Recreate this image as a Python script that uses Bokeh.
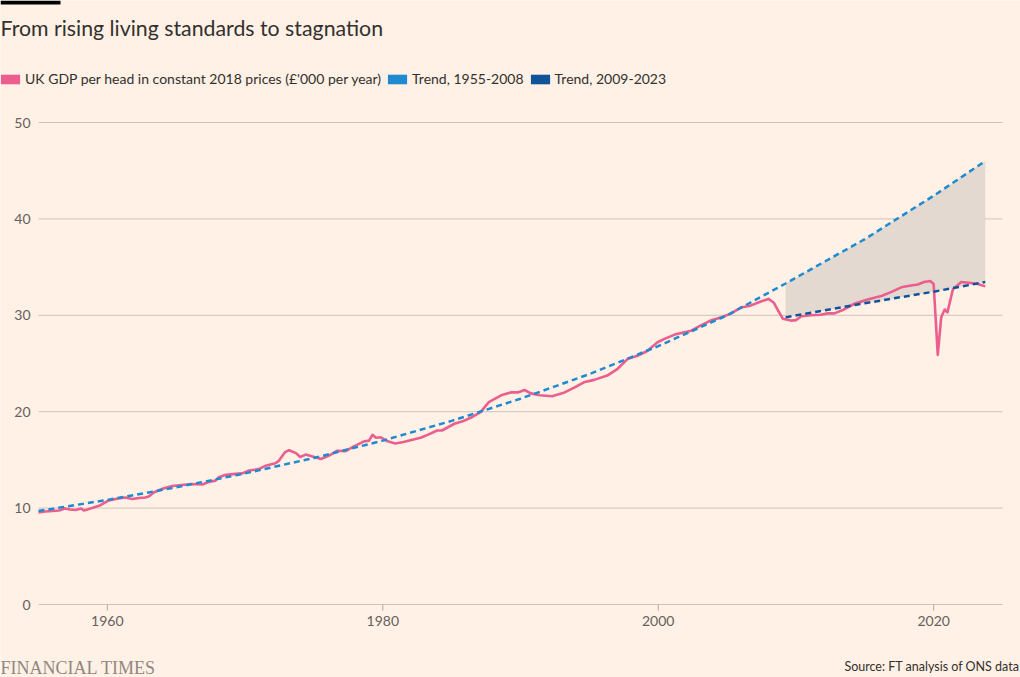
from bokeh.plotting import figure
from bokeh.models import Label, BoxAnnotation, Legend, LegendItem, Range1d
from bokeh.core.properties import value
from bokeh.embed import file_html
from bokeh.resources import INLINE

# ---------------- data ----------------
gdp_years = [
    1955.0, 1955.5, 1956.0, 1956.5, 1956.9, 1957.3, 1957.7, 1958.1, 1958.3, 1958.9,
    1959.5, 1960.1, 1960.8, 1961.3, 1961.8, 1962.3, 1962.75, 1963.0, 1963.4, 1964.0,
    1964.7, 1965.4, 1966.1, 1966.9, 1967.35, 1967.85, 1968.1, 1968.6, 1969.3, 1969.8,
    1970.3, 1971.0, 1971.5, 1972.2, 1972.45, 1972.9, 1973.2, 1973.7, 1974.0, 1974.4,
    1974.9, 1975.5, 1976.1, 1976.7, 1977.3, 1977.9, 1978.6, 1979.0, 1979.25, 1979.5,
    1979.85, 1980.3, 1980.9, 1981.5, 1982.15, 1982.75, 1983.25, 1983.95, 1984.3, 1985.2,
    1985.8, 1986.5, 1987.1, 1987.7, 1988.6, 1989.3, 1989.8, 1990.3, 1990.75, 1991.4,
    1992.3, 1993.2, 1993.9, 1994.6, 1995.35, 1996.3, 1997.05, 1997.8, 1998.5, 1999.2,
    1999.95, 2000.45, 2001.2, 2001.9, 2002.4, 2003.1, 2003.8, 2004.6, 2005.3, 2006.0,
    2006.7, 2007.5, 2008.0, 2008.4, 2008.7, 2009.05, 2009.65, 2010.0, 2010.4, 2011.1,
    2011.8, 2012.3, 2012.8, 2013.4, 2014.25, 2015.2, 2016.2, 2016.9, 2017.65, 2018.35,
    2018.85, 2019.3, 2019.75, 2020.0, 2020.3, 2020.55, 2020.8, 2021.0, 2021.4, 2022.0,
    2022.7, 2023.2, 2023.75,
]
gdp_values = [
    9.55, 9.65, 9.7, 9.75, 9.95, 9.85, 9.8, 9.95, 9.75, 10.0,
    10.3, 10.8, 11.0, 11.1, 10.95, 11.05, 11.1, 11.2, 11.65, 12.0,
    12.3, 12.4, 12.5, 12.45, 12.7, 12.85, 13.2, 13.45, 13.55, 13.6,
    13.9, 14.05, 14.4, 14.65, 14.9, 15.8, 16.0, 15.7, 15.3, 15.55,
    15.35, 15.1, 15.45, 15.95, 15.9, 16.4, 16.9, 17.0, 17.6, 17.3,
    17.35, 16.95, 16.7, 16.85, 17.1, 17.3, 17.6, 18.05, 18.05, 18.75,
    19.0, 19.45, 19.95, 21.0, 21.7, 22.0, 22.0, 22.25, 21.9, 21.7,
    21.6, 22.0, 22.5, 23.05, 23.3, 23.75, 24.45, 25.5, 25.8, 26.3,
    27.2, 27.55, 28.0, 28.25, 28.4, 28.95, 29.45, 29.8, 30.2, 30.8,
    31.0, 31.45, 31.7, 31.3, 30.5, 29.65, 29.45, 29.5, 29.9, 30.0,
    30.05, 30.2, 30.2, 30.55, 31.2, 31.65, 32.0, 32.4, 32.9, 33.1,
    33.2, 33.45, 33.55, 33.25, 25.9, 29.8, 30.6, 30.3, 32.7, 33.45,
    33.35, 33.25, 33.0,
]

trend1_years = [1955, 1960, 1965, 1970, 1975, 1980, 1985, 1990, 1995, 2000, 2005,
                2009.25, 2015, 2020, 2023.75]
trend1_values = [9.7, 10.85, 12.15, 13.6, 15.2, 17.0, 19.05, 21.35, 23.9, 26.8, 30.0,
                 33.3, 37.9, 42.4, 46.0]

trend2_years = [2009.25, 2015, 2020, 2023.75]
trend2_values = [29.8, 31.25, 32.45, 33.45]

x_ticks = [1960, 1980, 2000, 2020]
x_tick_labels = ["1960", "1980", "2000", "2020"]
y_ticks = [0, 10, 20, 30, 40, 50]
y_tick_labels = ["0", "10", "20", "30", "40", "50"]
x_limits = (1955, 2025)
y_limits = (0, 50)

title_text = "From rising living standards to stagnation"
legend_labels = ["UK GDP per head in constant 2018 prices (£'000 per year)",
                 "Trend, 1955-2008", "Trend, 2009-2023"]
source_text = "Source: FT analysis of ONS data"
brand_text = "FINANCIAL TIMES"

# ---------------- layout & style ----------------
W, H = 1020, 677
PL, PR, PT, PB = 38, 1002, 122, 604      # plotting area in canvas pixels
BG = "#fff1e5"
PINK = "#eb5e8d"
LIGHT = "#1f8ad0"
DARK = "#0f5499"
BAND = "#e3d9d0"
GRID = "#cfc4ba"
TICKC = "#b3a89e"
TXT = "#33302e"
TICK_TXT = "#66605c"
FONT = "Lato"

ppx = (PR - PL) / (x_limits[1] - x_limits[0])
ppy = (PB - PT) / (y_limits[1] - y_limits[0])
xr = Range1d(x_limits[0] - PL / ppx, x_limits[1] + (W - PR) / ppx)
yr = Range1d(y_limits[0] - (H - PB) / ppy, y_limits[1] + PT / ppy)

p = figure(width=W, height=H, output_backend="svg", toolbar_location=None,
           x_range=xr, y_range=yr, min_border=0, min_border_left=0,
           min_border_right=0, min_border_top=0, min_border_bottom=0,
           background_fill_color=BG, border_fill_color=BG,
           outline_line_color=None, title_location=None)
p.axis.visible = False
p.grid.visible = False

# horizontal gridlines across the plotting range
n = len(y_ticks)
p.segment(x0=[x_limits[0]] * n, x1=[x_limits[1]] * n, y0=y_ticks, y1=y_ticks,
          line_color=GRID, line_width=1)

# x ticks (6px long) and labels
TL = 6 / ppy
p.segment(x0=x_ticks, x1=x_ticks, y0=[y_limits[0]] * len(x_ticks),
          y1=[y_limits[0] - TL] * len(x_ticks), line_color=TICKC, line_width=1)
p.text(x=x_ticks, y=[y_limits[0]] * len(x_ticks), text=x_tick_labels,
       y_offset=16, text_align="center", text_baseline="middle",
       text_font=value(FONT), text_font_size="14px", text_color=TICK_TXT)

# y tick labels
p.text(x=[x_limits[0]] * n, y=y_ticks, text=y_tick_labels, x_offset=-8,
       text_align="right", text_baseline="middle",
       text_font=value(FONT), text_font_size="14px", text_color=TICK_TXT)

# shaded gap between the two trends
k = len(trend2_years)
p.varea(x=trend1_years[-k:], y1=trend2_values, y2=trend1_values[-k:],
        fill_color=BAND, fill_alpha=1)

# GDP line
p.line(gdp_years, gdp_values, line_color=PINK, line_width=2.6, line_join="round")

# trends
p.line(trend1_years, trend1_values, line_color=LIGHT, line_width=2.5, line_dash="6 4")
p.line(trend2_years, trend2_values, line_color=DARK, line_width=2.5, line_dash="6 4")

# legend with square keys (zero-size rects only serve as legend keys)
sw = [p.rect(x=gdp_years[:1], y=gdp_values[:1], width=0, height=0,
             fill_color=c, line_color=None) for c in (PINK, LIGHT, DARK)]
legend = Legend(items=[LegendItem(label=l, renderers=[r]) for l, r in zip(legend_labels, sw)],
                orientation="horizontal", location=(-2, H - 87),
                glyph_width=24, glyph_height=12, label_standoff=3, spacing=4,
                padding=0, margin=0, border_line_color=None, background_fill_alpha=0,
                label_text_font=FONT, label_text_font_size="14px",
                label_text_color=TXT, label_height=14)
p.add_layout(legend)

# top bar, title, footer
p.add_layout(BoxAnnotation(left=0, right=60, top=H, bottom=H - 4,
                           left_units="screen", right_units="screen",
                           top_units="screen", bottom_units="screen",
                           fill_color="black", fill_alpha=1, line_color=None))
p.add_layout(Label(x=0, y=H - 27.5, x_units="screen", y_units="screen", text=title_text,
                   text_font=FONT, text_font_size="21.3px", text_color=TXT,
                   text_baseline="middle", text_align="left"))
p.add_layout(Label(x=0, y=H - 667.5, x_units="screen", y_units="screen", text=brand_text,
                   text_font="Liberation Serif", text_font_size="18px",
                   text_color="#8f8781", text_baseline="middle", text_align="left"))
p.add_layout(Label(x=1019, y=H - 666, x_units="screen", y_units="screen",
                   text=source_text, text_font=FONT,
                   text_font_size="12.5px", text_color=TXT,
                   text_baseline="middle", text_align="right"))

open("out.html", "w").write(file_html(p, INLINE))
